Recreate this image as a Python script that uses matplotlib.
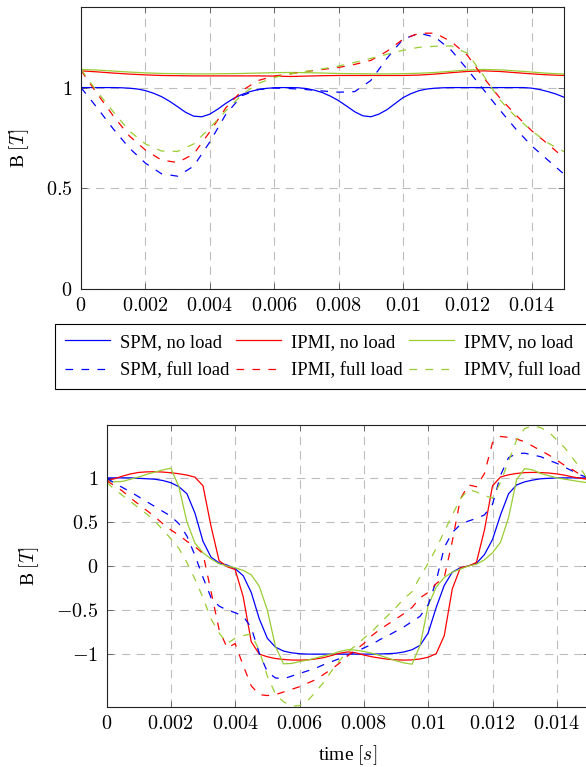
import matplotlib
matplotlib.use("Agg")
import matplotlib.pyplot as plt
import numpy as np

plt.rcParams["font.family"] = "serif"
plt.rcParams["font.serif"] = ["Liberation Serif", "DejaVu Serif"]
plt.rcParams["mathtext.fontset"] = "cm"
plt.rcParams["lines.scale_dashes"] = False

# ---------- data: top chart ----------
t_top = np.linspace(0, 0.015, 31)       # every 0.0005 s
t_top_fine = np.linspace(0, 0.015, 61)  # every 0.00025 s

spm_nl_top = [1.0, 1.0, 1.0, 1.0, 1.0, 0.999, 0.997, 0.993, 0.985, 0.972,
              0.955, 0.932, 0.905, 0.877, 0.858, 0.855, 0.868, 0.893, 0.922, 0.947,
              0.966, 0.98, 0.99, 0.996, 0.999, 1.0, 1.0, 0.999, 0.995, 0.987,
              0.975, 0.957, 0.935, 0.908, 0.88, 0.86, 0.855, 0.868, 0.89, 0.92,
              0.95, 0.97, 0.985, 0.993, 0.997, 0.999, 1.0, 1.0, 1.0, 1.0,
              1.0, 1.0, 1.0, 1.0, 1.0, 1.0, 0.997, 0.99, 0.98, 0.968, 0.952]
ipmi_nl_top = [1.083, 1.078, 1.072, 1.067, 1.063, 1.06, 1.059, 1.058, 1.058, 1.058, 1.058,
               1.058, 1.057, 1.055, 1.057, 1.059, 1.06, 1.06, 1.06, 1.06, 1.06,
               1.062, 1.067, 1.074, 1.08, 1.083, 1.08, 1.074, 1.068, 1.063, 1.06]
ipmv_nl_top = [1.09, 1.087, 1.082, 1.077, 1.073, 1.07, 1.069, 1.068, 1.068, 1.069, 1.07,
               1.072, 1.074, 1.075, 1.074, 1.072, 1.07, 1.069, 1.068, 1.068, 1.069,
               1.071, 1.075, 1.081, 1.087, 1.09, 1.088, 1.083, 1.077, 1.071, 1.067]
spm_fl_top = [1.0, 0.9, 0.795, 0.70, 0.625, 0.572, 0.56, 0.61, 0.73, 0.868, 0.96,
              0.99, 0.998, 0.995, 0.99, 0.983, 0.977, 0.98, 1.035, 1.145, 1.24,
              1.27, 1.25, 1.185, 1.09, 0.99, 0.89, 0.795, 0.71, 0.64, 0.57]
ipmi_fl_top = [1.085, 0.97, 0.86, 0.76, 0.69, 0.64, 0.628, 0.67, 0.78, 0.9, 0.985,
               1.035, 1.057, 1.068, 1.08, 1.09, 1.1, 1.115, 1.135, 1.18, 1.24,
               1.27, 1.27, 1.228, 1.16, 1.05, 0.95, 0.865, 0.785, 0.72, 0.65]
ipmv_fl_top = [1.09, 0.98, 0.88, 0.785, 0.72, 0.685, 0.683, 0.72, 0.8, 0.885, 0.965,
               1.02, 1.05, 1.068, 1.08, 1.093, 1.107, 1.125, 1.145, 1.165, 1.185,
               1.2, 1.205, 1.207, 1.17, 1.06, 0.94, 0.855, 0.785, 0.725, 0.682]

# ---------- data: bottom chart (sampled every 0.00025 s) ----------
t_bot = np.linspace(0, 0.015, 61)

spm_nl_bot = [1.0, 1.0, 1.0, 1.0, 0.995, 0.99, 0.985, 0.97, 0.945, 0.9,
              0.82, 0.6, 0.28, 0.1, 0.035, 0.01, -0.03, -0.11, -0.3, -0.6,
              -0.82, -0.92, -0.965, -0.985, -0.995, -1.0, -1.0, -1.0, -1.0, -1.0,
              -1.0, -1.0, -1.0, -1.0, -0.998, -0.995, -0.99, -0.975, -0.95, -0.9,
              -0.76, -0.47, -0.22, -0.07, -0.02, 0.0, 0.03, 0.13, 0.3, 0.58,
              0.82, 0.92, 0.955, 0.975, 0.99, 0.995, 1.0, 1.0, 1.0, 1.0, 1.0]
ipmi_nl_bot = [0.97, 0.99, 1.02, 1.045, 1.062, 1.068, 1.07, 1.066, 1.058, 1.047,
               1.032, 1.008, 0.91, 0.45, 0.06, -0.008, -0.04, -0.35, -0.86, -1.0,
               -1.03, -1.05, -1.06, -1.067, -1.068, -1.065, -1.055, -1.04, -1.015, -0.99,
               -0.975, -0.985, -1.01, -1.03, -1.045, -1.058, -1.065, -1.068, -1.065, -1.055,
               -1.035, -0.995, -0.79, -0.26, -0.02, 0.0, 0.04, 0.41, 0.91, 1.01,
               1.035, 1.05, 1.06, 1.062, 1.06, 1.055, 1.045, 1.03, 1.01, 0.995, 0.98]
ipmv_nl_bot = [0.96, 0.955, 0.96, 0.985, 1.01, 1.04, 1.065, 1.09, 1.11, 0.9,
               0.5, 0.26, 0.15, 0.08, 0.025, 0.0, -0.02, -0.05, -0.1, -0.23,
               -0.5, -0.91, -1.11, -1.106, -1.085, -1.068, -1.045, -1.02, -1.0, -0.97,
               -0.95, -0.955, -0.97, -0.99, -1.015, -1.045, -1.075, -1.1, -1.114, -0.9,
               -0.45, -0.24, -0.13, -0.07, -0.035, 0.0, 0.02, 0.07, 0.15, 0.27,
               0.55, 0.98, 1.106, 1.09, 1.05, 1.025, 1.0, 0.985, 0.97, 0.955, 0.945]
spm_fl_bot = [1.0, 0.94, 0.89, 0.84, 0.785, 0.73, 0.675, 0.62, 0.565, 0.48,
              0.34, 0.12, -0.13, -0.36, -0.455, -0.5, -0.53, -0.57, -0.7, -0.99,
              -1.2, -1.27, -1.28, -1.25, -1.22, -1.19, -1.16, -1.12, -1.085, -1.05,
              -1.01, -0.975, -0.93, -0.89, -0.835, -0.79, -0.74, -0.69, -0.63, -0.57,
              -0.44, -0.17, 0.21, 0.38, 0.47, 0.51, 0.54, 0.58, 0.7, 1.03,
              1.23, 1.275, 1.28, 1.26, 1.24, 1.2, 1.165, 1.12, 1.075, 1.03, 1.0]
ipmi_fl_bot = [0.97, 0.91, 0.85, 0.77, 0.7, 0.63, 0.56, 0.48, 0.41, 0.35,
               0.28, 0.22, 0.14, -0.29, -0.72, -0.93, -0.88, -1.13, -1.36, -1.46,
               -1.47, -1.46, -1.43, -1.4, -1.37, -1.33, -1.29, -1.23, -1.17, -1.1,
               -1.02, -0.95, -0.88, -0.79, -0.72, -0.66, -0.6, -0.54, -0.47, -0.36,
               -0.3, -0.2, -0.13, 0.28, 0.76, 0.92, 0.9, 1.05, 1.4, 1.47,
               1.46, 1.44, 1.41, 1.36, 1.31, 1.26, 1.2, 1.14, 1.09, 1.03, 0.97]
ipmv_fl_bot = [0.95, 0.87, 0.8, 0.73, 0.66, 0.59, 0.51, 0.41, 0.31, 0.2,
               0.04, -0.15, -0.36, -0.6, -0.76, -0.88, -0.82, -0.79, -0.77, -0.96,
               -1.25, -1.45, -1.54, -1.59, -1.585, -1.53, -1.43, -1.32, -1.19, -1.07,
               -0.97, -0.905, -0.82, -0.745, -0.65, -0.56, -0.47, -0.37, -0.29, -0.12,
               0.03, 0.2, 0.39, 0.58, 0.76, 0.87, 0.84, 0.8, 0.77, 0.95,
               1.19, 1.43, 1.56, 1.59, 1.57, 1.52, 1.43, 1.34, 1.22, 1.1, 0.96]

x_ticks = [0, 0.002, 0.004, 0.006, 0.008, 0.01, 0.012, 0.014]
y_ticks_top = [0, 0.5, 1]
y_ticks_bot = [-1, -0.5, 0, 0.5, 1]

labels = ["SPM, no load", "IPMI, no load", "IPMV, no load",
          "SPM, full load", "IPMI, full load", "IPMV, full load"]

c_spm = "#0000ff"
c_ipmi = "#ff0000"
c_ipmv = "#9acd32"
lw = 0.9
dash = (0, (5.5, 6.0))


def style_axes(ax, yticks, ylim):
    ax.set_xlim(0, 0.015)
    ax.set_ylim(*ylim)
    ax.set_xticks(x_ticks)
    ax.set_xticklabels([f"${v:g}$" for v in x_ticks])
    ax.set_yticks(yticks)
    ax.set_yticklabels([f"${v:g}$" for v in yticks])
    ax.grid(True, color="#bdbdbd", linestyle=(0, (6, 4.5)), linewidth=0.8)
    ax.set_axisbelow(True)
    ax.tick_params(direction="in", top=True, right=True, length=4, width=0.6,
                   color="#555555", labelsize=14.5, pad=6)
    for s in ax.spines.values():
        s.set_linewidth(0.8)
        s.set_color("#222222")


fig = plt.figure(figsize=(5.86, 7.67), dpi=100)

# top chart
ax1 = fig.add_axes([81 / 586, 1 - 289 / 767, 483 / 586, 282 / 767])
h1, = ax1.plot(t_top_fine, spm_nl_top, color=c_spm, lw=lw)
h2, = ax1.plot(t_top, ipmi_nl_top, color=c_ipmi, lw=lw)
h3, = ax1.plot(t_top, ipmv_nl_top, color=c_ipmv, lw=lw)
h4, = ax1.plot(t_top, spm_fl_top, color=c_spm, lw=lw, linestyle=dash)
h5, = ax1.plot(t_top, ipmi_fl_top, color=c_ipmi, lw=lw, linestyle=dash)
h6, = ax1.plot(t_top, ipmv_fl_top, color=c_ipmv, lw=lw, linestyle=dash)
style_axes(ax1, y_ticks_top, (0, 1.4))
ax1.set_ylabel("B $[T]$", fontsize=14)
ax1.yaxis.set_label_coords(-0.104, 0.5)

# bottom chart
ax2 = fig.add_axes([106.5 / 586, 1 - 707 / 767, 482.5 / 586, 282 / 767])
ax2.plot(t_bot, spm_nl_bot, color=c_spm, lw=lw)
ax2.plot(t_bot, ipmi_nl_bot, color=c_ipmi, lw=lw)
ax2.plot(t_bot, ipmv_nl_bot, color=c_ipmv, lw=lw)
ax2.plot(t_bot, spm_fl_bot, color=c_spm, lw=lw, linestyle=dash)
ax2.plot(t_bot, ipmi_fl_bot, color=c_ipmi, lw=lw, linestyle=dash)
ax2.plot(t_bot, ipmv_fl_bot, color=c_ipmv, lw=lw, linestyle=dash)
style_axes(ax2, y_ticks_bot, (-1.6, 1.6))
ax2.set_ylabel("B $[T]$", fontsize=14)
ax2.yaxis.set_label_coords(-0.136, 0.5)
ax2.set_xlabel("time $[s]$", fontsize=14)
ax2.xaxis.set_label_coords(0.5, -0.128)

# legend (column-major order for 3 columns)
handles = [h1, h4, h2, h5, h3, h6]
leg_labels = [labels[0], labels[3], labels[1], labels[4], labels[2], labels[5]]
leg = fig.legend(handles, leg_labels, ncol=3, loc="upper left",
                 bbox_to_anchor=(55 / 586, 1 - 324 / 767),
                 bbox_transform=fig.transFigure, borderaxespad=0,
                 fontsize=13.4, fancybox=False, edgecolor="black", framealpha=1,
                 handlelength=2.42, handletextpad=0.54, columnspacing=0.35,
                 borderpad=0.53, labelspacing=0.62)
leg.get_frame().set_linewidth(0.8)

fig.savefig("out.png", dpi=100)
